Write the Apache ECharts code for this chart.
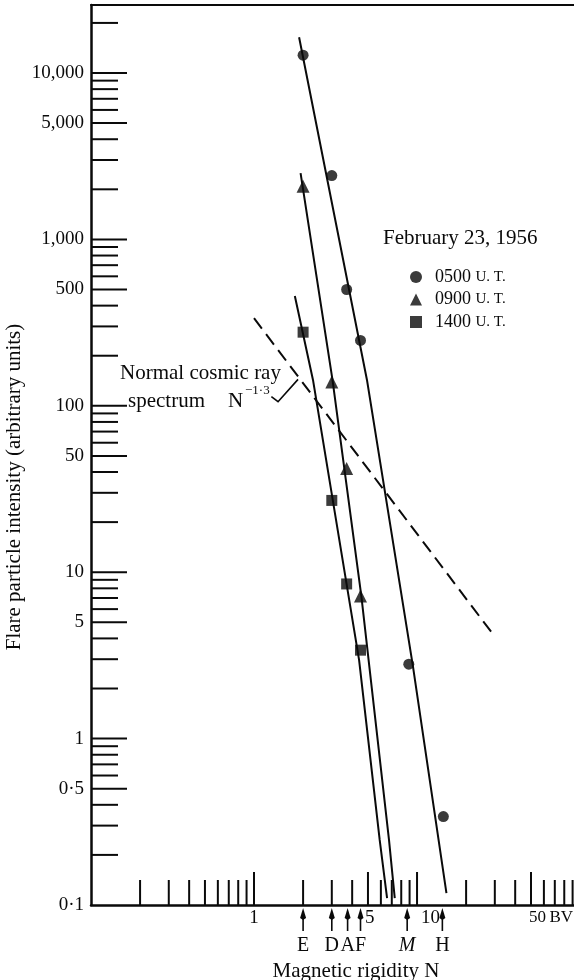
<!DOCTYPE html>
<html>
<head>
<meta charset="utf-8">
<script src="https://cdn.jsdelivr.net/npm/echarts@6/dist/echarts.min.js"></script>
<style>html,body{margin:0;padding:0;background:#fff}#c{width:574px;height:980px}</style>
</head>
<body>
<div id="c"></div>
<script>
// ---------- data ----------
const xTicks = [0.2,0.3,0.4,0.5,0.6,0.7,0.8,0.9,1,2,3,4,5,6,7,8,9,10,20,30,40,50,60,70,80,90];
const xMajorTicks = [1,5,10,50];
const xTickLabels = ['1','5','10','50\u2009BV'];
const xTickLabelValues = [1,5,10,50];
const yTicks = [0.2,0.3,0.4,0.5,0.6,0.7,0.8,0.9,1,2,3,4,5,6,7,8,9,10,20,30,40,50,60,70,80,90,
  100,200,300,400,500,600,700,800,900,1000,2000,3000,4000,5000,6000,7000,8000,9000,10000,20000];
const yMajorTicks = [0.5,1,5,10,50,100,500,1000,5000,10000];
const yTickLabels = ['0·1','0·5','1','5','10','50','100','500','1,000','5,000','10,000'];
const yTickLabelValues = [0.1,0.5,1,5,10,50,100,500,1000,5000,10000];
const stationLabels = ['E','D','A','F','M','H'];
const stationValues = [2,3,3.75,4.5,8.7,14.3];

const seriesNames = ['0500 U.T.','0900 U.T.','1400 U.T.'];
const points0500 = [[2,12800],[3,2420],[3.7,500],[4.5,247],[8.9,2.8],[14.5,0.34]];
const points0900 = [[2,2090],[3,139],[3.7,42],[4.5,7.2]];
const points1400 = [[2,277],[3,27],[3.7,8.5],[4.5,3.4]];
const fit0500 = [[1.89,16400],[4.93,143],[9.45,2.7],[15.15,0.118]];
const fit0900 = [[1.93,2500],[3.03,143],[4.56,7.1],[6.73,0.246],[7.30,0.110]];
const fit1400 = [[1.78,457],[2.30,143],[4.41,2.97],[5.90,0.246],[6.55,0.110]];
const normalSpectrum = [[1,336],[30,4.1]];
const bracketPath = [[1.278,113.4],[1.404,105.8],[1.862,144.2]];

const X_MIN = 0.1, X_MAX = 91.8, Y_MIN = 0.1, Y_MAX = 25630;

// ---------- styling ----------
const FONT = '"Liberation Serif", "Times New Roman", serif';
const INK = '#0a0a0a';

const chart = echarts.init(document.getElementById('c'), null, {renderer:'canvas'});

function txt(x, y, text, size, align, vAlign, extra) {
  return {
    type:'text', x:x, y:y,
    style: Object.assign({
      text:text, fill:INK, font: size + 'px ' + FONT,
      textAlign: align, textVerticalAlign: vAlign, align: align, verticalAlign: vAlign
    }, extra || {})
  };
}

const baseAxis = {
  type:'log', logBase:10,
  axisLine:{show:true, onZero:false, lineStyle:{color:INK, width:2.5}},
  axisTick:{show:false}, axisLabel:{show:false}, splitLine:{show:false},
  minorTick:{show:false}, minorSplitLine:{show:false}
};

const option = {
  animation:false,
  backgroundColor:'#fff',
  grid:{left:91, right:0, top:5, bottom:75, containLabel:false},
  xAxis:[
    Object.assign({}, baseAxis, {min:X_MIN, max:X_MAX, position:'bottom'}),
    Object.assign({}, baseAxis, {min:X_MIN, max:X_MAX, position:'top', axisLine:{show:true, onZero:false, lineStyle:{color:INK, width:2}}})
  ],
  yAxis:[Object.assign({}, baseAxis, {min:Y_MIN, max:Y_MAX})],
  legend:{
    data:[{name:seriesNames[0], icon:'circle'},{name:seriesNames[1], icon:'triangle'},{name:seriesNames[2], icon:'rect'}],
    orient:'vertical', left:405, top:262, itemWidth:12, itemHeight:12, itemGap:2.5,
    selectedMode:false,
    formatter: function(n){ const p = n.split(' '); return '{a|' + p[0] + '} {b|' + p[1].replace('.', '. ') + '}'; },
    textStyle:{color:INK, fontFamily:FONT, fontSize:18, lineHeight:20, padding:[0,0,0,8],
      rich:{a:{fontFamily:FONT, fontSize:18, color:INK, lineHeight:20}, b:{fontFamily:FONT, fontSize:15, color:INK, lineHeight:20}}}
  },
  graphic:[
    txt(383, 238, 'February 23, 1956', 21, 'left', 'middle'),
    txt(120, 373, 'Normal cosmic ray', 21, 'left', 'middle'),
    txt(128, 401, 'spectrum', 21, 'left', 'middle'),
    txt(228, 401, 'N', 21, 'left', 'middle'),
    txt(245, 391, '−1·3', 13, 'left', 'middle'),
    txt(356, 971, 'Magnetic rigidity N', 21, 'center', 'middle'),
    Object.assign(txt(14, 487, 'Flare particle intensity (arbitrary units)', 21, 'center', 'middle'), {rotation: Math.PI/2})
  ],
  series:[]
};

function fitLine(name, data) {
  return {type:'line', name:name, data:data, showSymbol:false, symbol:'none', silent:true,
    lineStyle:{color:INK, width:2}, z:2};
}
option.series.push(fitLine('fit0500', fit0500));
option.series.push(fitLine('fit0900', fit0900));
option.series.push(fitLine('fit1400', fit1400));
option.series.push({type:'line', name:'normal', data:normalSpectrum, showSymbol:false, symbol:'none', silent:true,
  lineStyle:{color:INK, width:2, type:[13,7]}, z:2});

option.series.push({type:'scatter', name:seriesNames[0], data:points0500, symbol:'circle', symbolSize:11, itemStyle:{color:INK}, z:5});
option.series.push({type:'scatter', name:seriesNames[1], data:points0900, symbol:'triangle', symbolSize:13, itemStyle:{color:INK}, z:5});
option.series.push({type:'scatter', name:seriesNames[2], data:points1400, symbol:'rect', symbolSize:11, itemStyle:{color:INK}, z:5});

option.series.push({type:'lines', name:'bracket', coordinateSystem:'cartesian2d', polyline:true, silent:true,
  symbol:['none','arrow'], symbolSize:7,
  lineStyle:{color:INK, width:1.6, opacity:1}, data:[{coords:bracketPath}], z:3});

// axis ticks (inside, drawn from tick arrays through the axis scales)
option.series.push({type:'custom', name:'yticks', silent:true, clip:false, z:4,
  data: yTicks.map(v => [X_MIN, v, yMajorTicks.indexOf(v) >= 0 ? 1 : 0]),
  renderItem: function(params, api){
    const p = api.coord([api.value(0), api.value(1)]);
    const len = api.value(2) ? 36 : 27;
    return {type:'line', shape:{x1:p[0], y1:p[1], x2:p[0]+len, y2:p[1]}, style:{stroke:INK, lineWidth:2}};
  }});
option.series.push({type:'custom', name:'xticks', silent:true, clip:false, z:4,
  data: xTicks.map(v => [v, Y_MIN, xMajorTicks.indexOf(v) >= 0 ? 1 : 0]),
  renderItem: function(params, api){
    const p = api.coord([api.value(0), api.value(1)]);
    const len = api.value(2) ? 33 : 25;
    return {type:'line', shape:{x1:p[0], y1:p[1], x2:p[0], y2:p[1]-len}, style:{stroke:INK, lineWidth:2}};
  }});
// tick labels
option.series.push({type:'custom', name:'ylabels', silent:true, clip:false, z:4,
  data: yTickLabelValues.map((v,i) => [X_MIN, v, i]),
  renderItem: function(params, api){
    const p = api.coord([api.value(0), api.value(1)]);
    return txt(p[0]-7, p[1], yTickLabels[api.value(2)], 19, 'right', 'middle');
  }});
const xLabelAlign = ['center','left','left','left'];
const xLabelDx = [0,-3,4,-2];
const xLabelSize = [19,19,19,17];
option.series.push({type:'custom', name:'xlabels', silent:true, clip:false, z:4,
  data: xTickLabelValues.map((v,i) => [v, Y_MIN, i]),
  renderItem: function(params, api){
    const i = api.value(2);
    const p = api.coord([api.value(0), api.value(1)]);
    return txt(p[0]+xLabelDx[i], p[1]+13, xTickLabels[i], xLabelSize[i], xLabelAlign[i], 'middle');
  }});
// station arrows with letters
option.series.push({type:'custom', name:'stations', silent:true, clip:false, z:4,
  data: stationValues.map((v,i) => [v, Y_MIN, i]),
  renderItem: function(params, api){
    const i = api.value(2);
    const p = api.coord([api.value(0), api.value(1)]);
    const x = p[0], y = p[1];
    const letter = stationLabels[i];
    return {type:'group', children:[
      {type:'polygon', shape:{points:[[x,y+3],[x-3,y+13],[x,y+15],[x+3,y+13]]}, style:{fill:INK}},
      {type:'line', shape:{x1:x, y1:y+10, x2:x, y2:y+26}, style:{stroke:INK, lineWidth:1.6}},
      txt(x, y+41, letter, 20, 'center', 'middle', letter === 'M' ? {font:'italic 20px ' + FONT} : {})
    ]};
  }});

chart.setOption(option);
</script>
</body>
</html>
